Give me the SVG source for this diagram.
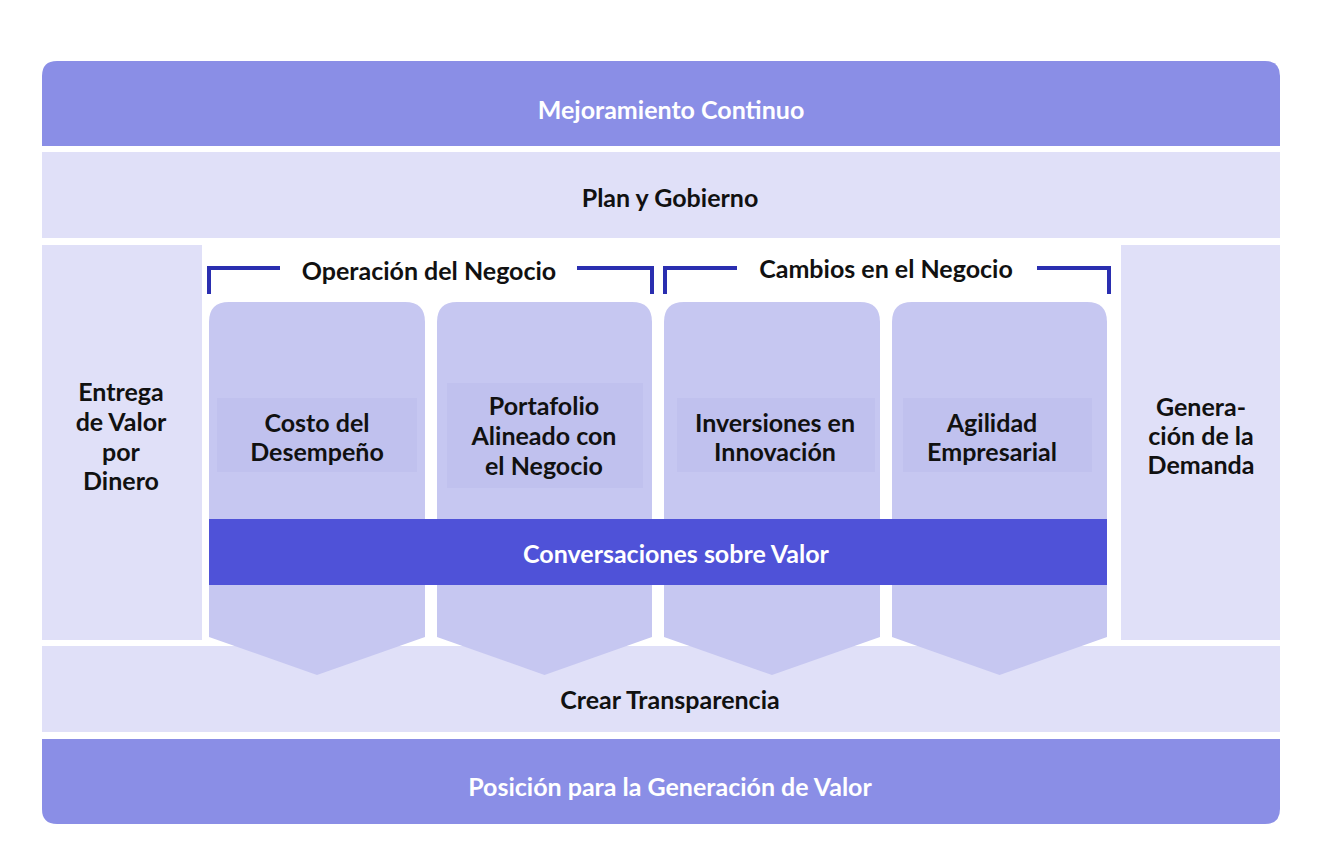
<svg xmlns="http://www.w3.org/2000/svg" width="1341" height="850" viewBox="0 0 1341 850">
<style>
.t{font-family:Lato,"Noto Sans","Liberation Sans",sans-serif;font-weight:700;font-size:25px;text-anchor:middle;fill:#111}
.w{fill:#ffffff}
.dark{fill:#8a8ee6}
.light{fill:#e0e0f8}
.col{fill:#c6c7f1}
.inner{fill:#c0c1ee}
.br{fill:none;stroke:#2a2eb0;stroke-width:4}
</style>
<rect width="1341" height="850" fill="#ffffff"/>
<g id="mejoramiento">
<path class="dark" d="M42,146 L42,76 Q42,61 57,61 L1265,61 Q1280,61 1280,76 L1280,146 Z"/>
<text class="t w" x="671" y="119">Mejoramiento Continuo</text>
</g>
<g id="plan">
<rect class="light" x="42" y="152" width="1238" height="86"/>
<text class="t" x="670" y="207">Plan y Gobierno</text>
</g>
<g id="entrega">
<rect class="light" x="42" y="245" width="160" height="395"/>
<text class="t" x="121" y="401">Entrega</text>
<text class="t" x="121" y="431">de Valor</text>
<text class="t" x="121" y="461">por</text>
<text class="t" x="121" y="490">Dinero</text>
</g>
<g id="generacion">
<rect class="light" x="1121" y="245" width="159" height="395"/>
<text class="t" x="1201" y="416">Genera-</text>
<text class="t" x="1201" y="445">ción de la</text>
<text class="t" x="1201" y="474">Demanda</text>
</g>
<g id="crear">
<rect class="light" x="42" y="646" width="1238" height="86"/>
<text class="t" x="670" y="709">Crear Transparencia</text>
</g>
<g id="posicion">
<path class="dark" d="M42,739 L1280,739 L1280,809 Q1280,824 1265,824 L57,824 Q42,824 42,809 Z"/>
<text class="t w" x="670" y="796">Posición para la Generación de Valor</text>
</g>
<g id="costo">
<path class="col" d="M209,322 Q209,302 229,302 L405,302 Q425,302 425,322 L425,637 L317,675 L209,637 Z"/>
<rect class="inner" x="217" y="398" width="200" height="74"/>
<text class="t" x="317" y="432">Costo del</text>
<text class="t" x="317" y="461">Desempeño</text>
</g>
<g id="portafolio">
<path class="col" d="M437,322 Q437,302 457,302 L632,302 Q652,302 652,322 L652,637 L544.5,675 L437,637 Z"/>
<rect class="inner" x="447" y="383" width="196" height="105"/>
<text class="t" x="544" y="415">Portafolio</text>
<text class="t" x="544" y="445">Alineado con</text>
<text class="t" x="544" y="475">el Negocio</text>
</g>
<g id="inversiones">
<path class="col" d="M664,322 Q664,302 684,302 L860,302 Q880,302 880,322 L880,637 L772,675 L664,637 Z"/>
<rect class="inner" x="677" y="398" width="198" height="74"/>
<text class="t" x="775" y="432">Inversiones en</text>
<text class="t" x="775" y="461">Innovación</text>
</g>
<g id="agilidad">
<path class="col" d="M892,322 Q892,302 912,302 L1087,302 Q1107,302 1107,322 L1107,637 L999.5,675 L892,637 Z"/>
<rect class="inner" x="903" y="398" width="189" height="74"/>
<text class="t" x="992" y="432">Agilidad</text>
<text class="t" x="992" y="461">Empresarial</text>
</g>
<g id="conversaciones">
<rect x="209" y="519" width="898" height="66" fill="#4f52d8"/>
<text class="t w" x="676" y="563">Conversaciones sobre Valor</text>
</g>
<g id="operacion">
<path class="br" d="M209,294 L209,268 L280,268 M577,268 L652,268 L652,294"/>
<text class="t" x="429" y="280">Operación del Negocio</text>
</g>
<g id="cambios">
<path class="br" d="M665,294 L665,268 L737,268 M1037,268 L1109,268 L1109,294"/>
<text class="t" x="886" y="278">Cambios en el Negocio</text>
</g>
<g id="connectors"></g>
</svg>
